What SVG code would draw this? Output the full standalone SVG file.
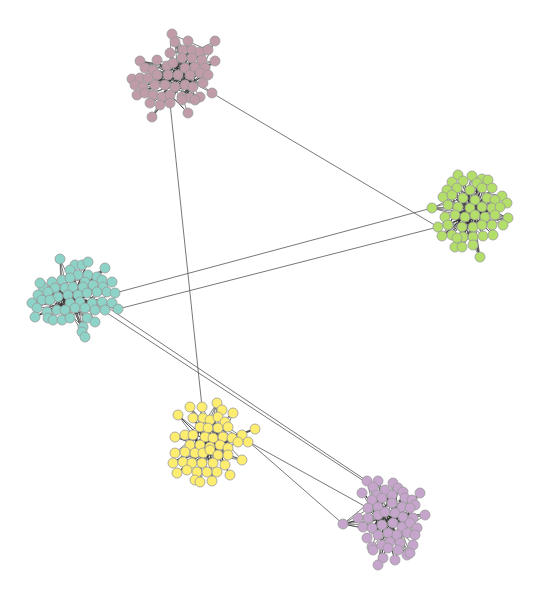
<svg xmlns="http://www.w3.org/2000/svg" width="541" height="600" viewBox="0 0 541 600">
<style>
.e{fill:none;stroke:#2a2a2a;stroke-width:0.6;stroke-linejoin:round}
.x{fill:none;stroke:#555;stroke-width:0.8}
circle{stroke:#9a9a9a;stroke-width:0.8}
.pk circle{fill:#c09ba8}
.gr circle{fill:#b3de69}
.tl circle{fill:#8dd3c7}
.yl circle{fill:#ffed6f}
.pu circle{fill:#c6a5cc}
</style>
<rect width="541" height="600" fill="#fff"/>
<g id="connectors">
<path class="x" d="M170 103L202 407M212 93L438 227M115 293L432 208M118 309L438 227M110 309L367 481M107 313L373 487M249 442L343 524M249 442L368 508"/>
<path class="e" d="M172 34L182 58L215 41L185 68L140 61L190 75L188 41L175 87L215 61L168 75L208 50L170 95L192 50L155 85L202 60L182 97L205 68L157 75L192 58L170 103L200 52L153 70L193 87L175 42L178 75L212 93L173 63L190 98L170 53L185 85L208 75L167 66L195 100L183 50L162 97L200 73L157 60L182 100L195 67L153 95L203 83L140 78L200 97L145 68L188 113M132 79L178 75L137 95L185 68L143 87L192 58L148 78L200 73L160 105L191 75L135 85L173 63L145 93L201 60L152 117L182 58L165 85L208 50L171 34L170 75L156 60L190 98L175 42L195 67L150 103L183 85L140 61L208 75L175 87L188 41L181 97L215 61L168 66L193 87L200 52L161 97L205 68L155 85L191 50L170 53L200 97M172 34L192 58L175 42L202 60L215 41L200 73L215 61L190 75L208 75L182 97L188 113L170 95L152 117L160 105L132 79L168 75L140 61L178 75L137 95L185 85L143 87L195 67"/>
<path class="e" d="M458 175L473 237L482 179L455 215L502 196L462 227L447 190L485 217L472 176L452 235L492 188L465 217L432 208L470 190L480 257L463 198L508 218L448 225L477 183L473 245L443 197L492 225L457 188L462 247L495 200L445 217L482 207L442 236L487 198L458 207L503 225L452 182L475 215L438 227L482 188L455 247L470 208L507 203L463 237L452 195L493 235L463 181L483 236L448 205L500 207M472 176L463 237L488 180L470 208L447 190L495 215L457 188L473 227L443 197L482 225L458 175L475 200L442 236L492 208L462 227L482 179L452 235L487 198L455 215L480 257L465 217L502 196L448 225L477 183L483 236L463 198L432 208L475 215L492 188L462 247L470 190L493 235L452 195L473 245L458 207L508 218L445 217L482 207L455 247L500 207L438 227M458 175L475 215L507 203L465 217L480 257L470 208L432 208L482 207L508 218L462 227L455 247L487 198L442 236L470 190L502 196L463 237L488 180L473 227"/>
<path class="e" d="M60 259L70 303L88 262L48 318L105 268L62 320L75 265L37 308L97 277L57 310L112 282L32 303L85 282L82 332L52 282L95 322L70 270L47 312L102 280L42 300L78 275L87 318L43 287L65 310L107 292L38 295L80 302L55 288L92 303L40 283L75 308L115 293L48 292L85 308L62 280L70 318L103 287L50 300L83 287L35 317L97 292L58 297L118 309L68 295L85 337L73 287L53 320L112 303M82 265L57 310L88 275L32 303L93 285L48 318L70 278L105 310L43 287L83 327L65 288L37 308L102 302L52 282L95 310L78 295L42 300L87 293L62 320L60 259L65 310L105 268L47 312L112 282L50 300L97 277L70 303L40 283L85 308L55 288L87 318L38 295L80 302L48 292L75 308L58 297L92 303L68 295M60 259L80 302L105 268L58 297L118 309L68 295L85 337L75 308L32 303L87 293L35 317L78 295L112 282L62 320L88 262L70 303"/>
<path class="e" d="M190 407L213 463L217 403L185 452L233 413L192 463L202 407L228 455L178 415L210 447L255 429L200 445L222 410L187 470L203 418L242 460L175 437L218 428L195 480L225 422L183 462L208 428L230 475L193 418L220 445L173 463L228 427L197 472L210 420L248 442L185 435L203 453L232 438L177 473L213 438L190 445L238 442L202 463L200 427L217 472L193 435L225 465L205 437L212 481M202 407L195 453L218 417L175 453L223 437L187 470L210 420L238 442L200 427L207 472L242 435L183 462L228 448L190 407L218 455L178 415L213 463L233 413L205 437L200 482L222 410L185 435L228 455L193 418L210 450L175 437L220 445L192 463L208 428L230 475L203 418M190 407L220 445L255 429L200 445L173 463L218 428L212 481L210 447L242 460L195 453L217 403L203 453L177 473L228 427L248 442L205 437"/>
<path class="e" d="M367 481L390 542L393 483L372 547L420 493L382 525L362 493L402 527L378 481L388 548L398 488L368 518L415 505L378 535L385 490L410 553L372 500L395 513L403 492L383 558L377 495L400 543L412 500L363 527L392 503L407 555L368 508L413 518L382 498L397 535L425 515L358 518L405 498L388 533L373 487L398 550L402 507L367 538L392 495L410 523L378 507L395 560L410 508L372 528L385 512L413 545M343 524L385 512L378 565L392 495L343 524L403 517L373 550L388 533L343 524L378 515L415 535L385 490L343 524L368 518L417 528L393 523L367 481L382 545L405 498L372 528L398 488L390 542L378 481L402 527L362 493L393 523L420 493L378 535L373 487L395 560L412 500L388 548L403 492L383 558M367 481L397 535L420 493L392 523L378 565L395 513L425 515L382 525L343 524L388 533L407 555L385 512L362 493L402 527L415 505L378 535"/>
</g>
<g id="cluster-pink" class="pk">
<circle id="p1" cx="172" cy="34" r="5"/><circle id="p2" cx="175" cy="42" r="5"/><circle id="p3" cx="188" cy="41" r="5"/><circle id="p4" cx="215" cy="41" r="5"/><circle id="p5" cx="183" cy="50" r="5"/><circle id="p6" cx="192" cy="50" r="5"/><circle id="p7" cx="200" cy="52" r="5"/><circle id="p8" cx="208" cy="50" r="5"/><circle id="p9" cx="170" cy="53" r="5"/><circle id="p10" cx="140" cy="61" r="5"/><circle id="p11" cx="157" cy="60" r="5"/><circle id="p12" cx="182" cy="58" r="5"/><circle id="p13" cx="192" cy="58" r="5"/><circle id="p14" cx="202" cy="60" r="5"/><circle id="p15" cx="215" cy="61" r="5"/><circle id="p16" cx="167" cy="66" r="5"/><circle id="p17" cx="173" cy="63" r="5"/><circle id="p18" cx="145" cy="68" r="5"/><circle id="p19" cx="153" cy="70" r="5"/><circle id="p20" cx="185" cy="68" r="5"/><circle id="p21" cx="195" cy="67" r="5"/><circle id="p22" cx="205" cy="68" r="5"/><circle id="p23" cx="132" cy="79" r="5"/><circle id="p24" cx="140" cy="78" r="5"/><circle id="p25" cx="148" cy="78" r="5"/><circle id="p26" cx="157" cy="75" r="5"/><circle id="p27" cx="168" cy="75" r="5"/><circle id="p28" cx="178" cy="75" r="5"/><circle id="p29" cx="190" cy="75" r="5"/><circle id="p30" cx="200" cy="73" r="5"/><circle id="p31" cx="208" cy="75" r="5"/><circle id="p32" cx="135" cy="85" r="5"/><circle id="p33" cx="143" cy="87" r="5"/><circle id="p34" cx="155" cy="85" r="5"/><circle id="p35" cx="165" cy="85" r="5"/><circle id="p36" cx="175" cy="87" r="5"/><circle id="p37" cx="185" cy="85" r="5"/><circle id="p38" cx="193" cy="87" r="5"/><circle id="p39" cx="203" cy="83" r="5"/><circle id="p40" cx="137" cy="95" r="5"/><circle id="p41" cx="145" cy="93" r="5"/><circle id="p42" cx="153" cy="95" r="5"/><circle id="p43" cx="162" cy="97" r="5"/><circle id="p44" cx="170" cy="95" r="5"/><circle id="p45" cx="182" cy="97" r="5"/><circle id="p46" cx="190" cy="98" r="5"/><circle id="p47" cx="200" cy="97" r="5"/><circle id="p48" cx="212" cy="93" r="5"/><circle id="p49" cx="150" cy="103" r="5"/><circle id="p50" cx="160" cy="105" r="5"/><circle id="p51" cx="170" cy="103" r="5"/><circle id="p52" cx="182" cy="100" r="5"/><circle id="p53" cx="195" cy="100" r="5"/><circle id="p54" cx="152" cy="117" r="5"/><circle id="p55" cx="188" cy="113" r="5"/>
</g>
<g id="cluster-green" class="gr">
<circle id="g1" cx="458" cy="175" r="5"/><circle id="g2" cx="472" cy="176" r="5"/><circle id="g3" cx="482" cy="179" r="5"/><circle id="g4" cx="488" cy="180" r="5"/><circle id="g5" cx="452" cy="182" r="5"/><circle id="g6" cx="463" cy="181" r="5"/><circle id="g7" cx="477" cy="183" r="5"/><circle id="g8" cx="447" cy="190" r="5"/><circle id="g9" cx="457" cy="188" r="5"/><circle id="g10" cx="470" cy="190" r="5"/><circle id="g11" cx="482" cy="188" r="5"/><circle id="g12" cx="492" cy="188" r="5"/><circle id="g13" cx="502" cy="196" r="5"/><circle id="g14" cx="443" cy="197" r="5"/><circle id="g15" cx="452" cy="195" r="5"/><circle id="g16" cx="463" cy="198" r="5"/><circle id="g17" cx="475" cy="200" r="5"/><circle id="g18" cx="487" cy="198" r="5"/><circle id="g19" cx="495" cy="200" r="5"/><circle id="g20" cx="507" cy="203" r="5"/><circle id="g21" cx="432" cy="208" r="5"/><circle id="g22" cx="448" cy="205" r="5"/><circle id="g23" cx="458" cy="207" r="5"/><circle id="g24" cx="470" cy="208" r="5"/><circle id="g25" cx="482" cy="207" r="5"/><circle id="g26" cx="492" cy="208" r="5"/><circle id="g27" cx="500" cy="207" r="5"/><circle id="g28" cx="445" cy="217" r="5"/><circle id="g29" cx="455" cy="215" r="5"/><circle id="g30" cx="465" cy="217" r="5"/><circle id="g31" cx="475" cy="215" r="5"/><circle id="g32" cx="485" cy="217" r="5"/><circle id="g33" cx="495" cy="215" r="5"/><circle id="g34" cx="508" cy="218" r="5"/><circle id="g35" cx="438" cy="227" r="5"/><circle id="g36" cx="448" cy="225" r="5"/><circle id="g37" cx="462" cy="227" r="5"/><circle id="g38" cx="473" cy="227" r="5"/><circle id="g39" cx="482" cy="225" r="5"/><circle id="g40" cx="492" cy="225" r="5"/><circle id="g41" cx="503" cy="225" r="5"/><circle id="g42" cx="442" cy="236" r="5"/><circle id="g43" cx="452" cy="235" r="5"/><circle id="g44" cx="463" cy="237" r="5"/><circle id="g45" cx="473" cy="237" r="5"/><circle id="g46" cx="483" cy="236" r="5"/><circle id="g47" cx="493" cy="235" r="5"/><circle id="g48" cx="455" cy="247" r="5"/><circle id="g49" cx="462" cy="247" r="5"/><circle id="g50" cx="473" cy="245" r="5"/><circle id="g51" cx="480" cy="257" r="5"/><circle id="g52" cx="457" cy="238" r="5"/>
</g>
<g id="cluster-teal" class="tl">
<circle id="t1" cx="60" cy="259" r="5"/><circle id="t2" cx="75" cy="265" r="5"/><circle id="t3" cx="82" cy="265" r="5"/><circle id="t4" cx="88" cy="262" r="5"/><circle id="t5" cx="70" cy="270" r="5"/><circle id="t6" cx="105" cy="268" r="5"/><circle id="t7" cx="78" cy="275" r="5"/><circle id="t8" cx="88" cy="275" r="5"/><circle id="t9" cx="97" cy="277" r="5"/><circle id="t10" cx="52" cy="282" r="5"/><circle id="t11" cx="62" cy="280" r="5"/><circle id="t12" cx="70" cy="278" r="5"/><circle id="t13" cx="85" cy="282" r="5"/><circle id="t14" cx="102" cy="280" r="5"/><circle id="t15" cx="112" cy="282" r="5"/><circle id="t16" cx="43" cy="287" r="5"/><circle id="t17" cx="40" cy="283" r="5"/><circle id="t18" cx="55" cy="288" r="5"/><circle id="t19" cx="65" cy="288" r="5"/><circle id="t20" cx="73" cy="287" r="5"/><circle id="t21" cx="83" cy="287" r="5"/><circle id="t22" cx="93" cy="285" r="5"/><circle id="t23" cx="103" cy="287" r="5"/><circle id="t24" cx="38" cy="295" r="5"/><circle id="t25" cx="48" cy="292" r="5"/><circle id="t26" cx="58" cy="297" r="5"/><circle id="t27" cx="68" cy="295" r="5"/><circle id="t28" cx="78" cy="295" r="5"/><circle id="t29" cx="87" cy="293" r="5"/><circle id="t30" cx="97" cy="292" r="5"/><circle id="t31" cx="107" cy="292" r="5"/><circle id="t32" cx="115" cy="293" r="5"/><circle id="t33" cx="32" cy="303" r="5"/><circle id="t34" cx="42" cy="300" r="5"/><circle id="t35" cx="50" cy="300" r="5"/><circle id="t36" cx="70" cy="303" r="5"/><circle id="t37" cx="80" cy="302" r="5"/><circle id="t38" cx="92" cy="303" r="5"/><circle id="t39" cx="102" cy="302" r="5"/><circle id="t40" cx="112" cy="303" r="5"/><circle id="t41" cx="37" cy="308" r="5"/><circle id="t42" cx="47" cy="312" r="5"/><circle id="t43" cx="57" cy="310" r="5"/><circle id="t44" cx="65" cy="310" r="5"/><circle id="t45" cx="75" cy="308" r="5"/><circle id="t46" cx="85" cy="308" r="5"/><circle id="t47" cx="95" cy="310" r="5"/><circle id="t48" cx="105" cy="310" r="5"/><circle id="t49" cx="118" cy="309" r="5"/><circle id="t50" cx="48" cy="318" r="5"/><circle id="t51" cx="53" cy="320" r="5"/><circle id="t52" cx="62" cy="320" r="5"/><circle id="t53" cx="70" cy="318" r="5"/><circle id="t54" cx="87" cy="318" r="5"/><circle id="t55" cx="95" cy="322" r="5"/><circle id="t56" cx="83" cy="327" r="5"/><circle id="t57" cx="82" cy="332" r="5"/><circle id="t58" cx="85" cy="337" r="5"/><circle id="t59" cx="35" cy="317" r="5"/>
</g>
<g id="cluster-yellow" class="yl">
<circle id="y1" cx="190" cy="407" r="5"/><circle id="y2" cx="202" cy="407" r="5"/><circle id="y3" cx="217" cy="403" r="5"/><circle id="y4" cx="222" cy="410" r="5"/><circle id="y5" cx="233" cy="413" r="5"/><circle id="y6" cx="178" cy="415" r="5"/><circle id="y7" cx="193" cy="418" r="5"/><circle id="y8" cx="203" cy="418" r="5"/><circle id="y9" cx="210" cy="420" r="5"/><circle id="y10" cx="218" cy="417" r="5"/><circle id="y11" cx="225" cy="422" r="5"/><circle id="y12" cx="255" cy="429" r="5"/><circle id="y13" cx="200" cy="427" r="5"/><circle id="y14" cx="208" cy="428" r="5"/><circle id="y15" cx="218" cy="428" r="5"/><circle id="y16" cx="228" cy="427" r="5"/><circle id="y17" cx="175" cy="437" r="5"/><circle id="y18" cx="185" cy="435" r="5"/><circle id="y19" cx="193" cy="435" r="5"/><circle id="y20" cx="205" cy="437" r="5"/><circle id="y21" cx="213" cy="438" r="5"/><circle id="y22" cx="223" cy="437" r="5"/><circle id="y23" cx="232" cy="438" r="5"/><circle id="y24" cx="242" cy="435" r="5"/><circle id="y25" cx="248" cy="442" r="5"/><circle id="y26" cx="190" cy="445" r="5"/><circle id="y27" cx="200" cy="445" r="5"/><circle id="y28" cx="210" cy="447" r="5"/><circle id="y29" cx="220" cy="445" r="5"/><circle id="y30" cx="228" cy="448" r="5"/><circle id="y31" cx="238" cy="442" r="5"/><circle id="y32" cx="175" cy="453" r="5"/><circle id="y33" cx="185" cy="452" r="5"/><circle id="y34" cx="195" cy="453" r="5"/><circle id="y35" cx="203" cy="453" r="5"/><circle id="y36" cx="210" cy="450" r="5"/><circle id="y37" cx="218" cy="455" r="5"/><circle id="y38" cx="228" cy="455" r="5"/><circle id="y39" cx="242" cy="460" r="5"/><circle id="y40" cx="173" cy="463" r="5"/><circle id="y41" cx="183" cy="462" r="5"/><circle id="y42" cx="192" cy="463" r="5"/><circle id="y43" cx="202" cy="463" r="5"/><circle id="y44" cx="213" cy="463" r="5"/><circle id="y45" cx="225" cy="465" r="5"/><circle id="y46" cx="177" cy="473" r="5"/><circle id="y47" cx="187" cy="470" r="5"/><circle id="y48" cx="197" cy="472" r="5"/><circle id="y49" cx="207" cy="472" r="5"/><circle id="y50" cx="217" cy="472" r="5"/><circle id="y51" cx="230" cy="475" r="5"/><circle id="y52" cx="195" cy="480" r="5"/><circle id="y53" cx="200" cy="482" r="5"/><circle id="y54" cx="212" cy="481" r="5"/>
</g>
<g id="cluster-purple" class="pu">
<circle id="u1" cx="367" cy="481" r="5"/><circle id="u2" cx="378" cy="481" r="5"/><circle id="u3" cx="393" cy="483" r="5"/><circle id="u4" cx="362" cy="493" r="5"/><circle id="u5" cx="373" cy="487" r="5"/><circle id="u6" cx="385" cy="490" r="5"/><circle id="u7" cx="398" cy="488" r="5"/><circle id="u8" cx="403" cy="492" r="5"/><circle id="u9" cx="420" cy="493" r="5"/><circle id="u10" cx="377" cy="495" r="5"/><circle id="u11" cx="372" cy="500" r="5"/><circle id="u12" cx="382" cy="498" r="5"/><circle id="u13" cx="392" cy="495" r="5"/><circle id="u14" cx="405" cy="498" r="5"/><circle id="u15" cx="412" cy="500" r="5"/><circle id="u16" cx="415" cy="505" r="5"/><circle id="u17" cx="368" cy="508" r="5"/><circle id="u18" cx="378" cy="507" r="5"/><circle id="u19" cx="392" cy="503" r="5"/><circle id="u20" cx="402" cy="507" r="5"/><circle id="u21" cx="410" cy="508" r="5"/><circle id="u22" cx="343" cy="524" r="5"/><circle id="u23" cx="358" cy="518" r="5"/><circle id="u24" cx="368" cy="518" r="5"/><circle id="u25" cx="378" cy="515" r="5"/><circle id="u26" cx="385" cy="512" r="5"/><circle id="u27" cx="395" cy="513" r="5"/><circle id="u28" cx="403" cy="517" r="5"/><circle id="u29" cx="413" cy="518" r="5"/><circle id="u30" cx="425" cy="515" r="5"/><circle id="u31" cx="363" cy="527" r="5"/><circle id="u32" cx="372" cy="528" r="5"/><circle id="u33" cx="382" cy="525" r="5"/><circle id="u34" cx="393" cy="523" r="5"/><circle id="u35" cx="402" cy="527" r="5"/><circle id="u36" cx="410" cy="523" r="5"/><circle id="u37" cx="417" cy="528" r="5"/><circle id="u38" cx="367" cy="538" r="5"/><circle id="u39" cx="378" cy="535" r="5"/><circle id="u40" cx="388" cy="533" r="5"/><circle id="u41" cx="397" cy="535" r="5"/><circle id="u42" cx="407" cy="533" r="5"/><circle id="u43" cx="415" cy="535" r="5"/><circle id="u44" cx="372" cy="547" r="5"/><circle id="u45" cx="382" cy="545" r="5"/><circle id="u46" cx="390" cy="542" r="5"/><circle id="u47" cx="400" cy="543" r="5"/><circle id="u48" cx="413" cy="545" r="5"/><circle id="u49" cx="373" cy="550" r="5"/><circle id="u50" cx="388" cy="548" r="5"/><circle id="u51" cx="398" cy="550" r="5"/><circle id="u52" cx="407" cy="555" r="5"/><circle id="u53" cx="410" cy="553" r="5"/><circle id="u54" cx="383" cy="558" r="5"/><circle id="u55" cx="378" cy="565" r="5"/><circle id="u56" cx="395" cy="560" r="5"/>
</g>
</svg>
